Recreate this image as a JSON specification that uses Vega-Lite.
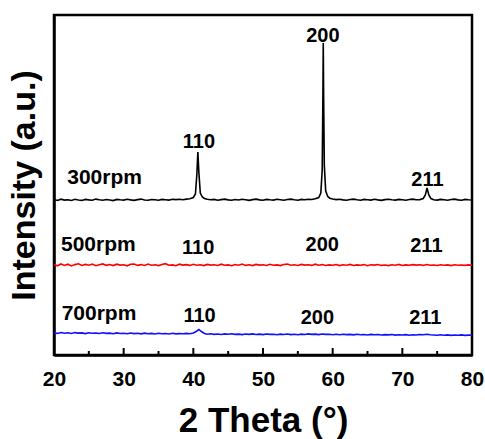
{
  "$schema": "https://vega.github.io/schema/vega-lite/v6.json",
  "width": 418,
  "height": 340,
  "autosize": "none",
  "padding": {"left": 54, "top": 15, "right": 13, "bottom": 84},
  "background": "white",
  "config": {
    "view": {"stroke": "black", "strokeWidth": 2.5},
    "font": "Liberation Sans"
  },
  "datasets": {
    "xrd": [
      {"s":"300rpm","x":20,"y":155.5},{"s":"300rpm","x":20.5,"y":154.6},{"s":"300rpm","x":21,"y":155.8},{"s":"300rpm","x":21.5,"y":154.9},{"s":"300rpm","x":22,"y":155.3},{"s":"300rpm","x":22.5,"y":154.5},{"s":"300rpm","x":23,"y":155.7},{"s":"300rpm","x":23.5,"y":155.0},{"s":"300rpm","x":24,"y":154.6},{"s":"300rpm","x":24.5,"y":155.6},{"s":"300rpm","x":25,"y":155.1},{"s":"300rpm","x":25.5,"y":154.7},{"s":"300rpm","x":26,"y":155.9},{"s":"300rpm","x":26.5,"y":155.2},{"s":"300rpm","x":27,"y":154.8},{"s":"300rpm","x":27.5,"y":155.5},{"s":"300rpm","x":28,"y":155.0},{"s":"300rpm","x":28.5,"y":154.4},{"s":"300rpm","x":29,"y":155.6},{"s":"300rpm","x":29.5,"y":155.2},{"s":"300rpm","x":30,"y":154.9},{"s":"300rpm","x":30.5,"y":155.7},{"s":"300rpm","x":31,"y":155.1},{"s":"300rpm","x":31.5,"y":154.6},{"s":"300rpm","x":32,"y":155.4},{"s":"300rpm","x":32.5,"y":155.9},{"s":"300rpm","x":33,"y":155.0},{"s":"300rpm","x":33.5,"y":154.7},{"s":"300rpm","x":34,"y":155.5},{"s":"300rpm","x":34.5,"y":155.2},{"s":"300rpm","x":35,"y":154.8},{"s":"300rpm","x":35.5,"y":155.6},{"s":"300rpm","x":36,"y":155.3},{"s":"300rpm","x":36.5,"y":154.9},{"s":"300rpm","x":37,"y":155.7},{"s":"300rpm","x":37.5,"y":155.4},{"s":"300rpm","x":38,"y":155.8},{"s":"300rpm","x":38.5,"y":155.3},{"s":"300rpm","x":39,"y":155.9},{"s":"300rpm","x":39.5,"y":156.3},{"s":"300rpm","x":40,"y":157.5},{"s":"300rpm","x":40.3,"y":161},{"s":"300rpm","x":40.5,"y":180},{"s":"300rpm","x":40.65,"y":203},{"s":"300rpm","x":40.8,"y":182},{"s":"300rpm","x":41,"y":162},{"s":"300rpm","x":41.3,"y":158},{"s":"300rpm","x":41.6,"y":156.5},{"s":"300rpm","x":42,"y":155.8},{"s":"300rpm","x":42.5,"y":155.2},{"s":"300rpm","x":43,"y":155.6},{"s":"300rpm","x":43.5,"y":154.8},{"s":"300rpm","x":44,"y":155.4},{"s":"300rpm","x":44.5,"y":155.9},{"s":"300rpm","x":45,"y":155.1},{"s":"300rpm","x":45.5,"y":154.7},{"s":"300rpm","x":46,"y":155.5},{"s":"300rpm","x":46.5,"y":155.0},{"s":"300rpm","x":47,"y":155.8},{"s":"300rpm","x":47.5,"y":155.2},{"s":"300rpm","x":48,"y":154.6},{"s":"300rpm","x":48.5,"y":155.4},{"s":"300rpm","x":49,"y":155.9},{"s":"300rpm","x":49.5,"y":155.1},{"s":"300rpm","x":50,"y":154.8},{"s":"300rpm","x":50.5,"y":155.6},{"s":"300rpm","x":51,"y":155.2},{"s":"300rpm","x":51.5,"y":154.9},{"s":"300rpm","x":52,"y":155.7},{"s":"300rpm","x":52.5,"y":155.3},{"s":"300rpm","x":53,"y":154.7},{"s":"300rpm","x":53.5,"y":155.5},{"s":"300rpm","x":54,"y":155.9},{"s":"300rpm","x":54.5,"y":155.2},{"s":"300rpm","x":55,"y":154.8},{"s":"300rpm","x":55.5,"y":155.6},{"s":"300rpm","x":56,"y":155.3},{"s":"300rpm","x":56.5,"y":155.8},{"s":"300rpm","x":57,"y":155.5},{"s":"300rpm","x":57.5,"y":156.2},{"s":"300rpm","x":58,"y":157.5},{"s":"300rpm","x":58.3,"y":162},{"s":"300rpm","x":58.5,"y":185},{"s":"300rpm","x":58.6,"y":260},{"s":"300rpm","x":58.65,"y":312},{"s":"300rpm","x":58.7,"y":262},{"s":"300rpm","x":58.8,"y":190},{"s":"300rpm","x":59,"y":164},{"s":"300rpm","x":59.3,"y":158.5},{"s":"300rpm","x":59.6,"y":156.8},{"s":"300rpm","x":60,"y":156},{"s":"300rpm","x":60.5,"y":155.4},{"s":"300rpm","x":61,"y":155.8},{"s":"300rpm","x":61.5,"y":155.1},{"s":"300rpm","x":62,"y":154.7},{"s":"300rpm","x":62.5,"y":155.5},{"s":"300rpm","x":63,"y":155.9},{"s":"300rpm","x":63.5,"y":155.2},{"s":"300rpm","x":64,"y":154.8},{"s":"300rpm","x":64.5,"y":155.6},{"s":"300rpm","x":65,"y":155.3},{"s":"300rpm","x":65.5,"y":154.9},{"s":"300rpm","x":66,"y":155.7},{"s":"300rpm","x":66.5,"y":155.1},{"s":"300rpm","x":67,"y":154.6},{"s":"300rpm","x":67.5,"y":155.4},{"s":"300rpm","x":68,"y":155.8},{"s":"300rpm","x":68.5,"y":155.2},{"s":"300rpm","x":69,"y":154.9},{"s":"300rpm","x":69.5,"y":155.6},{"s":"300rpm","x":70,"y":155.3},{"s":"300rpm","x":70.5,"y":154.8},{"s":"300rpm","x":71,"y":155.5},{"s":"300rpm","x":71.5,"y":155.9},{"s":"300rpm","x":72,"y":155.2},{"s":"300rpm","x":72.5,"y":155.4},{"s":"300rpm","x":73,"y":156.5},{"s":"300rpm","x":73.3,"y":160},{"s":"300rpm","x":73.55,"y":167},{"s":"300rpm","x":73.8,"y":160},{"s":"300rpm","x":74.1,"y":156.5},{"s":"300rpm","x":74.5,"y":155.3},{"s":"300rpm","x":75,"y":154.9},{"s":"300rpm","x":75.5,"y":155.6},{"s":"300rpm","x":76,"y":155.2},{"s":"300rpm","x":76.5,"y":154.7},{"s":"300rpm","x":77,"y":155.5},{"s":"300rpm","x":77.5,"y":155.9},{"s":"300rpm","x":78,"y":155.1},{"s":"300rpm","x":78.5,"y":154.8},{"s":"300rpm","x":79,"y":155.6},{"s":"300rpm","x":79.5,"y":155.2},{"s":"300rpm","x":80,"y":155.0},

      {"s":"500rpm","x":20,"y":90.5},{"s":"500rpm","x":20.5,"y":89.2},{"s":"500rpm","x":21,"y":91.0},{"s":"500rpm","x":21.5,"y":89.6},{"s":"500rpm","x":22,"y":90.8},{"s":"500rpm","x":22.5,"y":89.1},{"s":"500rpm","x":23,"y":90.4},{"s":"500rpm","x":23.5,"y":91.2},{"s":"500rpm","x":24,"y":89.5},{"s":"500rpm","x":24.5,"y":90.6},{"s":"500rpm","x":25,"y":89.8},{"s":"500rpm","x":25.5,"y":90.9},{"s":"500rpm","x":26,"y":89.3},{"s":"500rpm","x":26.5,"y":90.2},{"s":"500rpm","x":27,"y":91.1},{"s":"500rpm","x":27.5,"y":89.7},{"s":"500rpm","x":28,"y":90.5},{"s":"500rpm","x":28.5,"y":89.4},{"s":"500rpm","x":29,"y":90.8},{"s":"500rpm","x":29.5,"y":89.9},{"s":"500rpm","x":30,"y":90.3},{"s":"500rpm","x":30.5,"y":89.2},{"s":"500rpm","x":31,"y":90.7},{"s":"500rpm","x":31.5,"y":91.0},{"s":"500rpm","x":32,"y":89.6},{"s":"500rpm","x":32.5,"y":90.4},{"s":"500rpm","x":33,"y":89.5},{"s":"500rpm","x":33.5,"y":90.9},{"s":"500rpm","x":34,"y":89.8},{"s":"500rpm","x":34.5,"y":90.2},{"s":"500rpm","x":35,"y":89.4},{"s":"500rpm","x":35.5,"y":90.6},{"s":"500rpm","x":36,"y":91.3},{"s":"500rpm","x":36.5,"y":89.7},{"s":"500rpm","x":37,"y":90.1},{"s":"500rpm","x":37.5,"y":89.3},{"s":"500rpm","x":38,"y":90.8},{"s":"500rpm","x":38.5,"y":89.9},{"s":"500rpm","x":39,"y":90.4},{"s":"500rpm","x":39.5,"y":89.6},{"s":"500rpm","x":40,"y":90.7},{"s":"500rpm","x":40.5,"y":89.8},{"s":"500rpm","x":41,"y":90.3},{"s":"500rpm","x":41.5,"y":89.4},{"s":"500rpm","x":42,"y":90.6},{"s":"500rpm","x":42.5,"y":89.9},{"s":"500rpm","x":43,"y":90.2},{"s":"500rpm","x":43.5,"y":89.5},{"s":"500rpm","x":44,"y":90.8},{"s":"500rpm","x":44.5,"y":89.7},{"s":"500rpm","x":45,"y":90.1},{"s":"500rpm","x":45.5,"y":89.3},{"s":"500rpm","x":46,"y":90.5},{"s":"500rpm","x":46.5,"y":89.8},{"s":"500rpm","x":47,"y":90.9},{"s":"500rpm","x":47.5,"y":89.6},{"s":"500rpm","x":48,"y":90.2},{"s":"500rpm","x":48.5,"y":89.4},{"s":"500rpm","x":49,"y":90.6},{"s":"500rpm","x":49.5,"y":89.9},{"s":"500rpm","x":50,"y":90.3},{"s":"500rpm","x":50.5,"y":89.5},{"s":"500rpm","x":51,"y":90.7},{"s":"500rpm","x":51.5,"y":89.8},{"s":"500rpm","x":52,"y":90.1},{"s":"500rpm","x":52.5,"y":89.4},{"s":"500rpm","x":53,"y":90.5},{"s":"500rpm","x":53.5,"y":90.9},{"s":"500rpm","x":54,"y":89.7},{"s":"500rpm","x":54.5,"y":90.2},{"s":"500rpm","x":55,"y":89.5},{"s":"500rpm","x":55.5,"y":90.6},{"s":"500rpm","x":56,"y":89.9},{"s":"500rpm","x":56.5,"y":90.3},{"s":"500rpm","x":57,"y":89.6},{"s":"500rpm","x":57.5,"y":90.8},{"s":"500rpm","x":58,"y":89.8},{"s":"500rpm","x":58.5,"y":90.4},{"s":"500rpm","x":59,"y":89.5},{"s":"500rpm","x":59.5,"y":90.1},{"s":"500rpm","x":60,"y":89.7},{"s":"500rpm","x":60.5,"y":90.5},{"s":"500rpm","x":61,"y":89.4},{"s":"500rpm","x":61.5,"y":90.2},{"s":"500rpm","x":62,"y":89.8},{"s":"500rpm","x":62.5,"y":90.6},{"s":"500rpm","x":63,"y":89.5},{"s":"500rpm","x":63.5,"y":90.1},{"s":"500rpm","x":64,"y":89.7},{"s":"500rpm","x":64.5,"y":90.4},{"s":"500rpm","x":65,"y":89.3},{"s":"500rpm","x":65.5,"y":90.2},{"s":"500rpm","x":66,"y":89.9},{"s":"500rpm","x":66.5,"y":90.5},{"s":"500rpm","x":67,"y":89.6},{"s":"500rpm","x":67.5,"y":90.0},{"s":"500rpm","x":68,"y":89.4},{"s":"500rpm","x":68.5,"y":90.3},{"s":"500rpm","x":69,"y":89.8},{"s":"500rpm","x":69.5,"y":90.6},{"s":"500rpm","x":70,"y":89.5},{"s":"500rpm","x":70.5,"y":90.1},{"s":"500rpm","x":71,"y":89.7},{"s":"500rpm","x":71.5,"y":90.4},{"s":"500rpm","x":72,"y":89.9},{"s":"500rpm","x":72.5,"y":90.2},{"s":"500rpm","x":73,"y":89.6},{"s":"500rpm","x":73.5,"y":90.5},{"s":"500rpm","x":74,"y":89.8},{"s":"500rpm","x":74.5,"y":90.0},{"s":"500rpm","x":75,"y":89.5},{"s":"500rpm","x":75.5,"y":90.3},{"s":"500rpm","x":76,"y":89.7},{"s":"500rpm","x":76.5,"y":90.1},{"s":"500rpm","x":77,"y":89.4},{"s":"500rpm","x":77.5,"y":90.2},{"s":"500rpm","x":78,"y":89.8},{"s":"500rpm","x":78.5,"y":90.0},{"s":"500rpm","x":79,"y":89.6},{"s":"500rpm","x":79.5,"y":90.1},{"s":"500rpm","x":80,"y":89.8},

      {"s":"700rpm","x":20,"y":22.3},{"s":"700rpm","x":20.5,"y":21.6},{"s":"700rpm","x":21,"y":22.5},{"s":"700rpm","x":21.5,"y":21.8},{"s":"700rpm","x":22,"y":22.2},{"s":"700rpm","x":22.5,"y":21.5},{"s":"700rpm","x":23,"y":22.4},{"s":"700rpm","x":23.5,"y":21.9},{"s":"700rpm","x":24,"y":22.1},{"s":"700rpm","x":24.5,"y":21.4},{"s":"700rpm","x":25,"y":22.3},{"s":"700rpm","x":25.5,"y":21.7},{"s":"700rpm","x":26,"y":22.0},{"s":"700rpm","x":26.5,"y":21.5},{"s":"700rpm","x":27,"y":22.2},{"s":"700rpm","x":27.5,"y":21.6},{"s":"700rpm","x":28,"y":21.9},{"s":"700rpm","x":28.5,"y":21.3},{"s":"700rpm","x":29,"y":22.1},{"s":"700rpm","x":29.5,"y":21.5},{"s":"700rpm","x":30,"y":21.8},{"s":"700rpm","x":30.5,"y":21.2},{"s":"700rpm","x":31,"y":22.0},{"s":"700rpm","x":31.5,"y":21.4},{"s":"700rpm","x":32,"y":21.7},{"s":"700rpm","x":32.5,"y":21.1},{"s":"700rpm","x":33,"y":21.9},{"s":"700rpm","x":33.5,"y":21.3},{"s":"700rpm","x":34,"y":21.6},{"s":"700rpm","x":34.5,"y":21.0},{"s":"700rpm","x":35,"y":21.8},{"s":"700rpm","x":35.5,"y":21.2},{"s":"700rpm","x":36,"y":21.5},{"s":"700rpm","x":36.5,"y":21.0},{"s":"700rpm","x":37,"y":21.7},{"s":"700rpm","x":37.5,"y":21.1},{"s":"700rpm","x":38,"y":21.4},{"s":"700rpm","x":38.5,"y":21.2},{"s":"700rpm","x":39,"y":21.6},{"s":"700rpm","x":39.5,"y":21.3},{"s":"700rpm","x":40,"y":22.0},{"s":"700rpm","x":40.4,"y":23.5},{"s":"700rpm","x":40.8,"y":25.5},{"s":"700rpm","x":41.2,"y":23.2},{"s":"700rpm","x":41.6,"y":21.5},{"s":"700rpm","x":42,"y":20.8},{"s":"700rpm","x":42.5,"y":21.2},{"s":"700rpm","x":43,"y":20.6},{"s":"700rpm","x":43.5,"y":21.0},{"s":"700rpm","x":44,"y":20.5},{"s":"700rpm","x":44.5,"y":21.1},{"s":"700rpm","x":45,"y":20.7},{"s":"700rpm","x":45.5,"y":21.2},{"s":"700rpm","x":46,"y":20.6},{"s":"700rpm","x":46.5,"y":20.9},{"s":"700rpm","x":47,"y":20.4},{"s":"700rpm","x":47.5,"y":21.0},{"s":"700rpm","x":48,"y":20.6},{"s":"700rpm","x":48.5,"y":21.1},{"s":"700rpm","x":49,"y":20.5},{"s":"700rpm","x":49.5,"y":20.9},{"s":"700rpm","x":50,"y":20.4},{"s":"700rpm","x":50.5,"y":21.0},{"s":"700rpm","x":51,"y":20.6},{"s":"700rpm","x":51.5,"y":20.8},{"s":"700rpm","x":52,"y":20.3},{"s":"700rpm","x":52.5,"y":20.9},{"s":"700rpm","x":53,"y":20.5},{"s":"700rpm","x":53.5,"y":21.0},{"s":"700rpm","x":54,"y":20.4},{"s":"700rpm","x":54.5,"y":20.8},{"s":"700rpm","x":55,"y":20.3},{"s":"700rpm","x":55.5,"y":20.9},{"s":"700rpm","x":56,"y":20.5},{"s":"700rpm","x":56.5,"y":21.1},{"s":"700rpm","x":57,"y":20.6},{"s":"700rpm","x":57.5,"y":20.9},{"s":"700rpm","x":58,"y":20.4},{"s":"700rpm","x":58.5,"y":21.0},{"s":"700rpm","x":59,"y":20.6},{"s":"700rpm","x":59.5,"y":20.8},{"s":"700rpm","x":60,"y":20.3},{"s":"700rpm","x":60.5,"y":20.7},{"s":"700rpm","x":61,"y":20.2},{"s":"700rpm","x":61.5,"y":20.8},{"s":"700rpm","x":62,"y":20.4},{"s":"700rpm","x":62.5,"y":20.6},{"s":"700rpm","x":63,"y":20.1},{"s":"700rpm","x":63.5,"y":20.7},{"s":"700rpm","x":64,"y":20.3},{"s":"700rpm","x":64.5,"y":20.5},{"s":"700rpm","x":65,"y":20.0},{"s":"700rpm","x":65.5,"y":20.6},{"s":"700rpm","x":66,"y":20.2},{"s":"700rpm","x":66.5,"y":20.5},{"s":"700rpm","x":67,"y":20.0},{"s":"700rpm","x":67.5,"y":20.4},{"s":"700rpm","x":68,"y":20.1},{"s":"700rpm","x":68.5,"y":20.5},{"s":"700rpm","x":69,"y":19.9},{"s":"700rpm","x":69.5,"y":20.3},{"s":"700rpm","x":70,"y":20.0},{"s":"700rpm","x":70.5,"y":20.4},{"s":"700rpm","x":71,"y":19.8},{"s":"700rpm","x":71.5,"y":20.3},{"s":"700rpm","x":72,"y":20.0},{"s":"700rpm","x":72.5,"y":20.5},{"s":"700rpm","x":73,"y":20.2},{"s":"700rpm","x":73.5,"y":20.7},{"s":"700rpm","x":74,"y":20.3},{"s":"700rpm","x":74.5,"y":20.0},{"s":"700rpm","x":75,"y":19.7},{"s":"700rpm","x":75.5,"y":20.2},{"s":"700rpm","x":76,"y":19.8},{"s":"700rpm","x":76.5,"y":20.1},{"s":"700rpm","x":77,"y":19.6},{"s":"700rpm","x":77.5,"y":20.0},{"s":"700rpm","x":78,"y":19.7},{"s":"700rpm","x":78.5,"y":20.1},{"s":"700rpm","x":79,"y":19.6},{"s":"700rpm","x":79.5,"y":19.9},{"s":"700rpm","x":80,"y":19.7}
    ],
    "sampleLabels": [
      {"t":"300rpm","x":21.9,"y":177},
      {"t":"500rpm","x":21.0,"y":110},
      {"t":"700rpm","x":21.1,"y":41}
    ],
    "peakLabels": [
      {"t":"110","x":40.8,"y":213},
      {"t":"200","x":58.6,"y":319},
      {"t":"211","x":73.6,"y":175},
      {"t":"110","x":40.7,"y":107.5},
      {"t":"200","x":58.5,"y":110},
      {"t":"211","x":73.45,"y":109},
      {"t":"110","x":40.9,"y":39.5},
      {"t":"200","x":57.8,"y":37.5},
      {"t":"211","x":73.3,"y":37}
    ],
    "majorTicks": [{"x":30},{"x":40},{"x":50},{"x":60},{"x":70}],
    "minorTicks": [{"x":25},{"x":35},{"x":45},{"x":55},{"x":65},{"x":75}]
  },
  "layer": [
    {
      "data": {"name": "xrd"},
      "mark": {"type": "line", "strokeWidth": 1.6},
      "encoding": {
        "x": {
          "field": "x", "type": "quantitative",
          "scale": {"domain": [20, 80], "nice": false, "zero": false},
          "axis": {
            "title": "2 Theta (°)",
            "titleFont": "Liberation Sans", "titleFontSize": 35, "titleFontWeight": "bold", "titleColor": "black", "titlePadding": 14,
            "values": [20,30,40,50,60,70,80],
            "labelFont": "Liberation Sans", "labelFontSize": 21, "labelFontWeight": "bold", "labelColor": "black", "labelPadding": 13,
            "labelFlush": false,
            "grid": false, "ticks": false,
            "domainColor": "black", "domainWidth": 2.5
          }
        },
        "y": {
          "field": "y", "type": "quantitative",
          "scale": {"domain": [0, 340], "nice": false},
          "axis": {
            "title": "Intensity (a.u.)",
            "titleFont": "Liberation Sans", "titleFontSize": 34, "titleFontWeight": "bold", "titleColor": "black", "titlePadding": 13,
            "labels": false, "ticks": false, "grid": false,
            "domainColor": "black", "domainWidth": 2.5
          }
        },
        "color": {
          "field": "s", "type": "nominal",
          "scale": {"domain": ["300rpm","500rpm","700rpm"], "range": ["#000000","#ff0000","#1010ff"]},
          "legend": null
        }
      }
    },
    {
      "data": {"name": "majorTicks"},
      "mark": {"type": "rule", "color": "black", "strokeWidth": 2},
      "encoding": {
        "x": {"field": "x", "type": "quantitative"},
        "y": {"datum": 0},
        "y2": {"datum": 7}
      }
    },
    {
      "data": {"name": "minorTicks"},
      "mark": {"type": "rule", "color": "black", "strokeWidth": 2},
      "encoding": {
        "x": {"field": "x", "type": "quantitative"},
        "y": {"datum": 0},
        "y2": {"datum": 4}
      }
    },
    {
      "data": {"name": "sampleLabels"},
      "mark": {"type": "text", "font": "Liberation Sans", "fontSize": 21, "fontWeight": "bold", "baseline": "middle", "align": "left", "color": "black"},
      "encoding": {
        "x": {"field": "x", "type": "quantitative"},
        "y": {"field": "y", "type": "quantitative"},
        "text": {"field": "t"}
      }
    },
    {
      "data": {"name": "peakLabels"},
      "mark": {"type": "text", "font": "Liberation Sans", "fontSize": 20, "fontWeight": "bold", "baseline": "middle", "align": "center", "color": "black"},
      "encoding": {
        "x": {"field": "x", "type": "quantitative"},
        "y": {"field": "y", "type": "quantitative"},
        "text": {"field": "t"}
      }
    }
  ]
}
